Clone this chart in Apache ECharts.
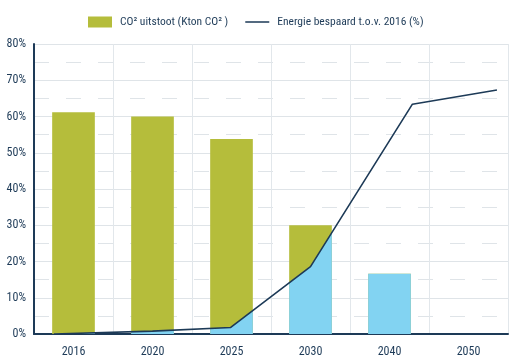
<!DOCTYPE html>
<html><head><meta charset="utf-8">
<script src="https://cdn.jsdelivr.net/npm/echarts@6/dist/echarts.min.js"></script>
<style>html,body{margin:0;padding:0;background:#fff}#c{width:515px;height:364px}</style>
</head><body><div id="c"></div>
<script>
const categories = ['2016','2020','2025','2030','2040','2050'];
const co2Values = [61.2, 60.0, 53.8, 30.0, 16.6, null];
// energy line: position along the category band (in category units) and value (%)
const lineX = [0.25, 1.5, 2.49, 3.5, 4.79, 5.86];
const lineValues = [0, 0.8, 1.8, 18.6, 63.4, 67.3];
const yTicks = [0, 10, 20, 30, 40, 50, 60, 70, 80];

const GREEN = '#b5bd3b', BLUE = '#82d3f2', NAVY = '#1d3a57';
const FONT = '"Roboto Condensed", "Liberation Sans Narrow", "Roboto", sans-serif';

const linePts = lineX.map((x, i) => [x, lineValues[i]]);
function L(x) {
  if (x <= linePts[0][0]) return linePts[0][1];
  for (let i = 1; i < linePts.length; i++) {
    if (x <= linePts[i][0]) {
      const [xa, ya] = linePts[i - 1], [xb, yb] = linePts[i];
      return ya + (yb - ya) * (x - xa) / (xb - xa);
    }
  }
  return linePts[linePts.length - 1][1];
}

const halfW = 0.27;
function renderItem(params, api) {
  const i = api.value(0), v = api.value(1);
  if (v == null || isNaN(v)) return;
  const x0 = i + 0.5 - halfW, x1 = i + 0.5 + halfW;
  const p0 = api.coord([x0, v]), p1 = api.coord([x1, 0]);
  const children = [{
    type: 'rect',
    shape: { x: p0[0], y: p0[1], width: p1[0] - p0[0], height: p1[1] - p0[1] },
    style: { fill: GREEN }
  }];
  let xs = [x0, x1];
  linePts.forEach(p => { if (p[0] > x0 && p[0] < x1) xs.push(p[0]); });
  for (let k = 1; k < linePts.length; k++) {
    const [xa, ya] = linePts[k - 1], [xb, yb] = linePts[k];
    if ((ya - v) * (yb - v) < 0) {
      const xc = xa + (v - ya) * (xb - xa) / (yb - ya);
      if (xc > x0 && xc < x1) xs.push(xc);
    }
  }
  xs.sort((a, b) => a - b);
  const pts = [api.coord([x0, 0]), api.coord([x1, 0])];
  for (let k = xs.length - 1; k >= 0; k--) {
    const f = Math.max(0, Math.min(v, L(xs[k])));
    pts.push(api.coord([xs[k], f]));
  }
  children.push({ type: 'polygon', shape: { points: pts }, style: { fill: BLUE } });
  return { type: 'group', children };
}

const LINE_ICON = 'path://M0,0L0.01,0L0.01,0.01L0,0.01ZM0,10.99L0.01,10.99L0.01,11L0,11ZM0,4.7L24,4.7L24,6.3L0,6.3Z';

const chart = echarts.init(document.getElementById('c'), null, { renderer: 'canvas' });
chart.setOption({
  animation: false,
  textStyle: { fontFamily: FONT, color: NAVY },
  legend: {
    left: 83, top: 11, itemWidth: 24, itemHeight: 11, itemGap: 17,
    textStyle: { fontFamily: FONT, fontSize: 11.5, color: NAVY, padding: [0, 0, 0, 3] },
    data: [
      { name: 'CO² uitstoot (Kton CO² )', icon: 'rect', itemStyle: { color: GREEN } },
      { name: 'Energie bespaard t.o.v. 2016 (%)', icon: LINE_ICON, itemStyle: { color: NAVY } }
    ]
  },
  grid: { left: 34, right: 7, top: 44, bottom: 30 },
  xAxis: [{
    type: 'category', data: categories, boundaryGap: true,
    axisLine: { show: true, lineStyle: { color: NAVY, width: 2 } },
    axisTick: { show: false },
    axisLabel: { margin: 12, fontSize: 12, color: NAVY, fontFamily: FONT },
    splitLine: { show: true, lineStyle: { color: '#e2e7eb', width: 1 } }
  }, {
    type: 'value', min: 0, max: 6, show: false
  }],
  yAxis: {
    type: 'value', min: 0, max: 80, interval: 10,
    axisLine: { show: true, lineStyle: { color: NAVY, width: 2 } },
    axisTick: { show: false },
    axisLabel: { formatter: v => yTicks.includes(v) ? v + '%' : '', fontSize: 12, color: NAVY, margin: 8, fontFamily: FONT },
    splitLine: { lineStyle: { color: '#dfe4e8', width: 1 } },
    minorTick: { show: false, splitNumber: 2 },
    minorSplitLine: { show: true, lineStyle: { color: '#dfe4e8', type: [15, 17], dashOffset: 0 } }
  },
  series: [{
    name: 'CO² uitstoot (Kton CO² )',
    type: 'custom', xAxisIndex: 1, yAxisIndex: 0,
    color: GREEN, itemStyle: { color: GREEN },
    renderItem,
    data: co2Values.map((v, i) => [i, v]),
    z: 2
  }, {
    name: 'Energie bespaard t.o.v. 2016 (%)',
    type: 'line', xAxisIndex: 1, yAxisIndex: 0,
    data: linePts, symbol: 'none', showSymbol: false,
    color: NAVY,
    lineStyle: { color: NAVY, width: 1.6 },
    z: 5
  }]
});
</script></body></html>
